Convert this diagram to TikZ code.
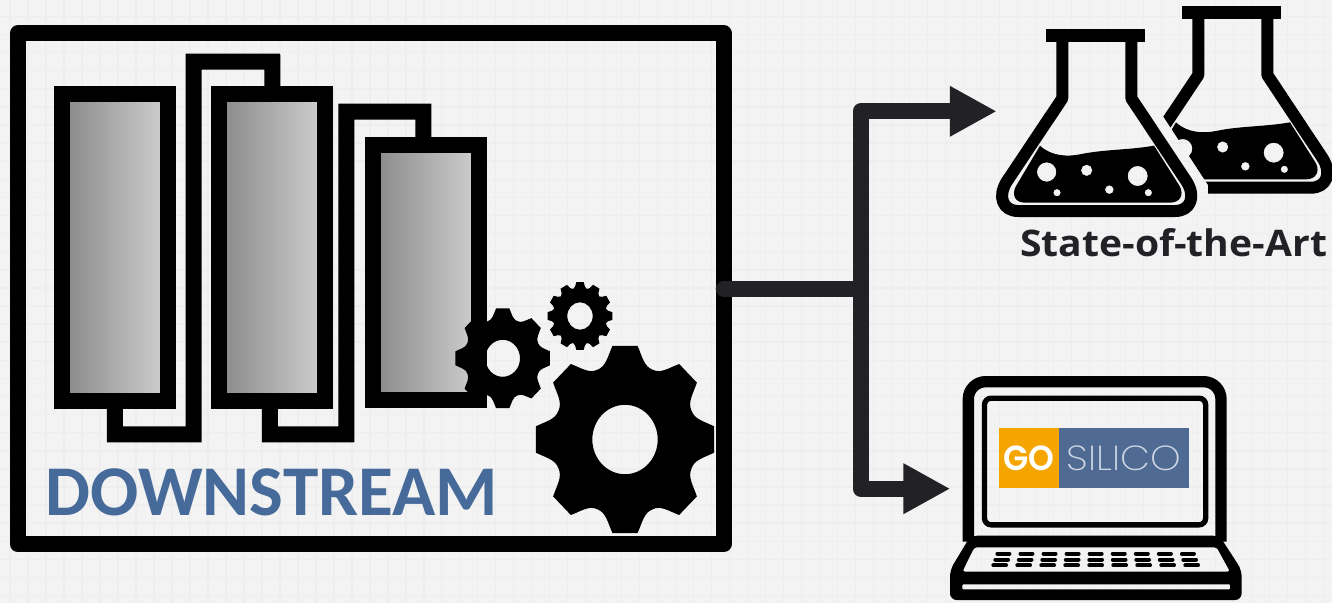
\documentclass[tikz,border=0pt]{standalone}
\usepackage{fontspec}
\usepackage{graphicx}
\usetikzlibrary{arrows.meta}
\setmainfont{Open Sans}
\newfontfamily\carl{Carlito}
\newfontfamily\popb[UprightFont=* SemiBold]{Poppins}
\newfontfamily\popl[UprightFont=* ExtraLight]{Poppins}
\definecolor{bgc}{HTML}{F3F3F3}
\definecolor{gridc}{HTML}{EEEEEE}
\definecolor{connc}{HTML}{222226}
\definecolor{titlec}{HTML}{466A99}
\definecolor{logoo}{HTML}{F5A500}
\definecolor{logob}{HTML}{4F6B94}
\definecolor{silc}{HTML}{D0D8E4}
\definecolor{gradl}{HTML}{888888}
\definecolor{gradm}{HTML}{BBBBBB}
\definecolor{gradr}{HTML}{D0D0D0}
\tikzset{
  gridline/.style={gridc,line width=1.1pt},
  frame box/.style={draw=black,line width=12pt,line join=round,inner sep=0pt,outer sep=0pt,minimum width=529.5pt,minimum height=382.9pt},
  column box/.style={draw=black,line width=12pt,inner sep=0pt,outer sep=0pt,left color=gradl,middle color=gradm,right color=gradr,minimum width=79.4pt},
  pipe/.style={black,line width=12pt,miter limit=10},
  conn/.style={connc,line width=12pt,line join=round},
  arrowed/.style={-{Triangle[length=35.2pt,width=35.5pt]}},
  keybar/.style={black,line width=3pt,line cap=round},
}
% cx cy rx ry teeth halftip root hole-rx hole-ry
\newcommand{\gearshape}[9]{%
  \begin{scope}[shift={(#1,#2)},x=#3*0.75pt,y=-#4*0.75pt]
    \pgfmathsetmacro{\per}{360/#5}
    \pgfmathsetmacro{\ca}{(\per/2-#6)*0.3}
    \pgfmathsetmacro{\cb}{(\per/2-#6)*0.5}
    \pgfmathsetmacro{\rmid}{(1+#7)/2}
    \fill[black,even odd rule] ({90-#6}:1)
      \foreach \k [evaluate=\k as \a using 90+\k*\per] in {1,...,#5}{
        -- ({\a-\per+#6}:1)
        .. controls ({\a-\per+#6+\ca}:\rmid) and ({\a-\per/2-\cb}:#7) .. ({\a-\per/2}:#7)
        .. controls ({\a-\per/2+\cb}:#7) and ({\a-#6-\ca}:\rmid) .. ({\a-#6}:1)
      } -- cycle
      (0,0) ellipse [x radius=#8/#3, y radius=#9/#4];
  \end{scope}}
\newcommand{\flaskshape}{%
  \fill[black] (199,87) rectangle (495,127);
  \draw[black,line width=9pt,line join=round] (247,120) -- (247,295) -- (80,545)
     .. controls (52,590) and (68,633) .. (115,633) -- (585,633)
     .. controls (632,633) and (648,590) .. (620,545) -- (454,295) -- (454,120);
  \fill[black,even odd rule] (180,437) .. controls (215,470) and (265,470) .. (300,463)
     .. controls (370,448) and (450,450) .. (522,437) -- (600,560)
     .. controls (612,585) and (600,608) .. (570,608) -- (135,608)
     .. controls (105,608) and (95,585) .. (107,560) -- cycle
     (200,516) circle (29) (320,511) circle (17) (473,528) circle (30)
     (388,569) circle (13) (231,578) circle (11) (505,578) circle (11);}
\begin{document}
\begin{tikzpicture}[x=0.75pt,y=-0.75pt]
\useasboundingbox (0,0) rectangle (1332,603);
\fill[bgc] (0,0) rectangle (1332,603);
\foreach \i in {0,...,73} \draw[gridline] ({10+17.99*\i},0) -- ({10+17.99*\i},603);
\foreach \j in {0,...,32} \draw[gridline] (0,{16.4+18.1*\j}) -- (1332,{16.4+18.1*\j});

% process frame
\node[frame box] (frame) at (370.7,288.75) {};

% columns
\node[column box,minimum height=230.25pt] (col1) at (115.1,247.8) {};
\node[column box,minimum height=230.25pt] (col2) at (272.3,247.8) {};
\node[column box,minimum height=191.6pt] (col3) at (426,272.25) {};
\draw[pipe] ([xshift=39.6pt]col1.south west) -- ++(0,33) -- ++(78.7,0) -- ++(0,-372.7) -- ++(78.6,0) -- ([xshift=39.75pt]col2.north west);
\draw[pipe] ([xshift=37.8pt]col2.south west) -- ++(0,33) -- ++(76.6,0) -- ++(0,-322.6) -- ++(76.9,0) -- ([xshift=37.65pt]col3.north west);

% gears
\gearshape{625}{439.5}{90}{94.5}{8}{8}{0.80}{32.7}{34.7}
\gearshape{502.7}{358.3}{47.7}{50.3}{8}{8}{0.80}{17.3}{18.5}
\gearshape{580}{316}{32.7}{34}{12}{6.5}{0.82}{12.7}{13.7}

\node[anchor=base west,inner sep=0pt,text=titlec,font=\carl\bfseries] (title) at (45.7,515) {\resizebox{339pt}{!}{DOWNSTREAM}};

% connectors
\coordinate (jun) at (860.7,288.75);
\coordinate (tipA) at (996.7,111.3);
\coordinate (tipB) at (950.3,488.7);
\draw[conn,line cap=round] (frame.east) -- (jun);
\draw[conn,arrowed] (jun) |- (tipA);
\draw[conn,arrowed] (jun) |- (tipB);

% flasks
\begin{scope}[shift={(980,0)},x=0.25pt,y=-0.25pt]
  \begin{scope}
    \clip (511,290) -- (511,0) -- (1056,0) -- (1056,700) -- (684,700) -- (684,555) -- cycle;
    \begin{scope}[shift={(408,-70)}]
      \flaskshape
    \end{scope}
  \end{scope}
  \flaskshape
\end{scope}
\node[anchor=base west,inner sep=0pt,text=connc,font=\bfseries] (sota) at (1020,256) {\resizebox{230pt}{21pt}{State-of-the-Art}};

% laptop
\begin{scope}[shift={(930,370)},x=0.25pt,y=-0.25pt]
  \draw[black,line width=8.5pt,rounded corners=13pt] (115,515) -- (115,35) -- (873,35) -- (873,515);
  \draw[black,line width=4pt,rounded corners=5pt] (163.5,84.5) rectangle (827,464.5);
  \fill[black,even odd rule,rounded corners=5pt]
     (122,497) -- (868,497) -- (935,600) -- (935,690) -- (60,690) -- (60,600) -- cycle
     [rounded corners=2pt] (133,532) -- (860,532) -- (900,605) -- (97,605) -- cycle
     [rounded corners=0.5pt] (97,643) -- (900,643) -- (900,658) -- (97,658) -- cycle;
  \foreach \i in {-4,...,4} {
    \draw[keybar] ({497+69.2*\i-18},551) -- ({497+69.2*\i+18},551);
    \draw[keybar] ({497+70.5*\i-19},569) -- ({497+70.5*\i+19},569);
    \draw[keybar] ({497+72*\i-19},586) -- ({497+72*\i+19},586);
  }
  \node[fill=logoo,inner sep=0pt,minimum width=44.75pt,minimum height=44.75pt,text=white] (logogo) at (296.5,263.5) {\popb\resizebox{38.25pt}{18.5pt}{GO}};
  \node[fill=logob,inner sep=0pt,minimum width=97.75pt,minimum height=44.75pt,text=silc] (logosil) at (581.5,263.5) {\popl\resizebox{85.75pt}{18.5pt}{SILICO}};
\end{scope}
\end{tikzpicture}
\end{document}
